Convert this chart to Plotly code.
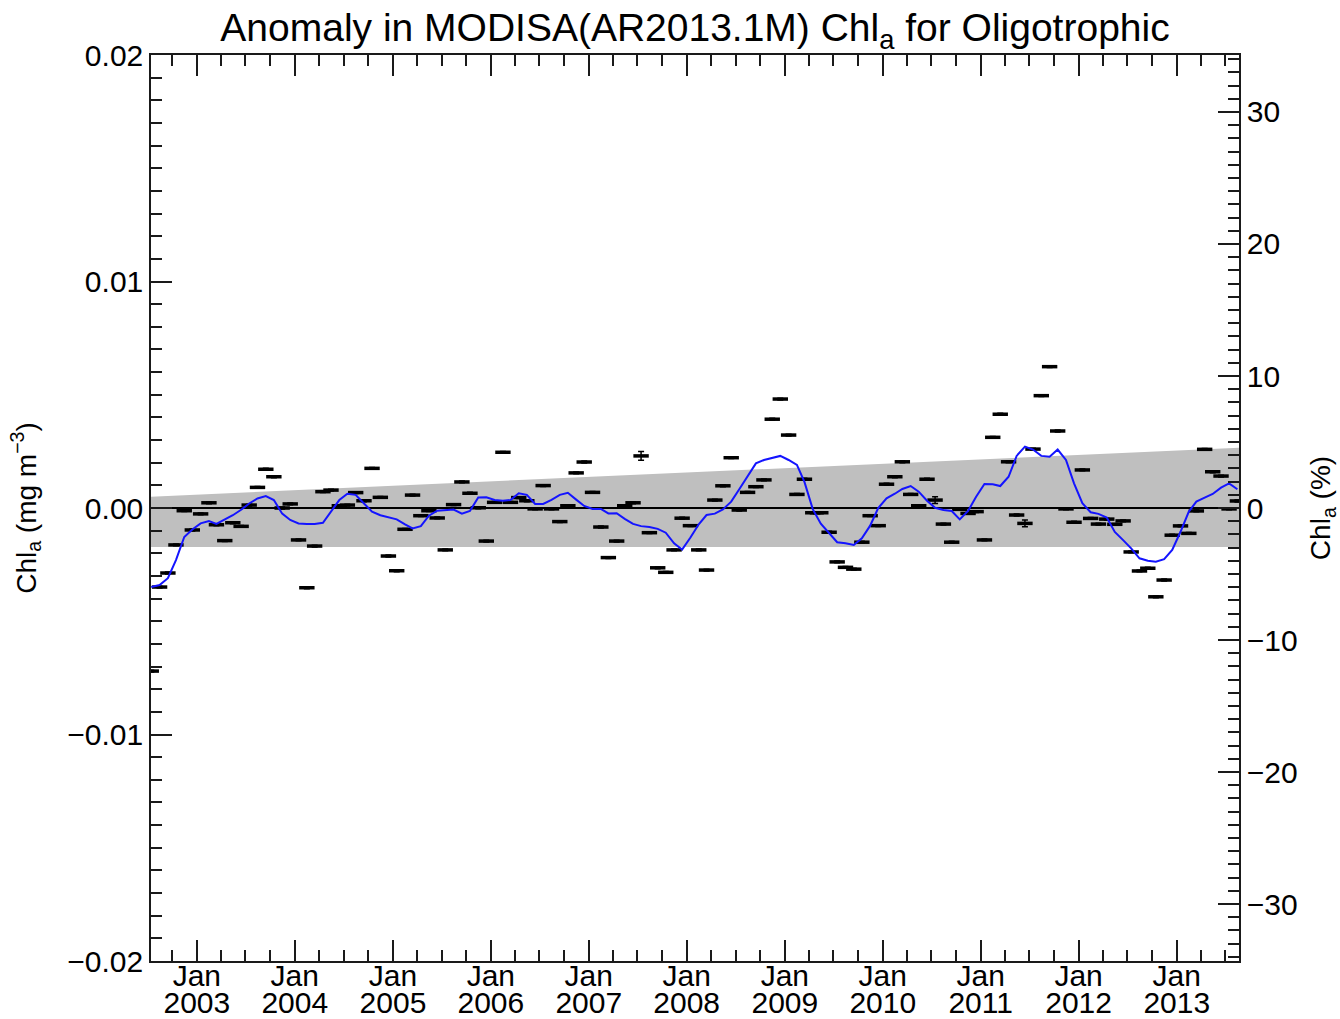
import numpy as np
import pandas as pd
import plotly.graph_objects as go

# ---------------- data ----------------
# monthly anomaly (mg m^-3), Jul 2002 .. Aug 2013 (mid-month)
start_month = "2002-07-01"
anomaly = [
    -0.0072, -0.00349, -0.00287, -0.00163, -0.00012, -0.00097,            # 2002 Jul-Dec
    -0.00026, 0.00023, -0.00074, -0.00144, -0.00065, -0.00081,            # 2003 Jan-Jun
    0.00013, 0.00091, 0.00171, 0.00138, 0.00000, 0.00018,                 # 2003 Jul-Dec
    -0.00141, -0.00352, -0.00168, 0.00072, 0.00079, 0.00010,              # 2004 Jan-Jun
    0.00013, 0.00068, 0.00032, 0.00175, 0.00047, -0.00212,                # 2004 Jul-Dec
    -0.00277, -0.00094, 0.00057, -0.00034, -0.00012, -0.00044,            # 2005 Jan-Jun
    -0.00185, 0.00015, 0.00115, 0.00065, 0.00001, -0.00146,               # 2005 Jul-Dec
    0.00025, 0.00246, 0.00025, 0.00046, 0.00032, -0.00004,                # 2006 Jan-Jun
    0.00099, -0.00004, -0.00060, 0.00010, 0.00155, 0.00203,               # 2006 Jul-Dec
    0.00069, -0.00084, -0.00219, -0.00146, 0.00010, 0.00023,              # 2007 Jan-Jun
    0.00230, -0.00109, -0.00264, -0.00284, -0.00185, -0.00045,            # 2007 Jul-Dec
    -0.00078, -0.00185, -0.00274, 0.00035, 0.00098, 0.00222,              # 2008 Jan-Jun
    -0.00009, 0.00069, 0.00094, 0.00124, 0.00392, 0.00481,                # 2008 Jul-Dec
    0.00322, 0.00060, 0.00127, -0.00021, -0.00021, -0.00107,              # 2009 Jan-Jun
    -0.00238, -0.00262, -0.00270, -0.00151, -0.00034, -0.00078,           # 2009 Jul-Dec
    0.00105, 0.00138, 0.00204, 0.00060, 0.00010, 0.00127,                 # 2010 Jan-Jun
    0.00035, -0.00071, -0.00151, -0.00006, -0.00024, -0.00016,            # 2010 Jul-Dec
    -0.00141, 0.00312, 0.00414, 0.00204, -0.00031, -0.00068,              # 2011 Jan-Jun
    0.00260, 0.00496, 0.00624, 0.00340, -0.00004, -0.00063,               # 2011 Jul-Dec
    0.00168, -0.00046, -0.00071, -0.00049, -0.00072, -0.00057,            # 2012 Jan-Jun
    -0.00194, -0.00278, -0.00266, -0.00392, -0.00318, -0.00120,           # 2012 Jul-Dec
    -0.00079, -0.00112, -0.00013, 0.00259, 0.00160, 0.00141,              # 2013 Jan-Jun
    -0.00004, 0.00031,                                                    # 2013 Jul-Aug
]
# uncertainty of each monthly value (mg m^-3)
anomaly_err = [0.00004] * len(anomaly)
anomaly_err[60] = 0.00019
anomaly_err[96] = 0.00015
anomaly_err[107] = 0.00015

# running mean (mg m^-3), same months
running_mean = [
    -0.00349, -0.00340, -0.00310, -0.00230, -0.00128, -0.00095,
    -0.00068, -0.00058, -0.00070, -0.00052, -0.00032, -0.00008,
    0.00020, 0.00042, 0.00053, 0.00035, -0.00025, -0.00053,
    -0.00068, -0.00071, -0.00071, -0.00065, -0.00015, 0.00035,
    0.00063, 0.00058, 0.00020, -0.00016, -0.00032, -0.00040,
    -0.00050, -0.00072, -0.00090, -0.00080, -0.00034, -0.00012,
    -0.00008, -0.00007, -0.00025, -0.00013, 0.00046, 0.00047,
    0.00035, 0.00032, 0.00035, 0.00065, 0.00058, 0.00018,
    0.00018, 0.00036, 0.00058, 0.00067, 0.00037, 0.00009,
    -0.00004, -0.00004, -0.00024, -0.00023, -0.00048, -0.00070,
    -0.00080, -0.00084, -0.00092, -0.00109, -0.00156, -0.00183,
    -0.00130, -0.00072, -0.00031, -0.00025, -0.00006, 0.00028,
    0.00083, 0.00140, 0.00197, 0.00212, 0.00222, 0.00230,
    0.00212, 0.00190, 0.00115, -0.00005, -0.00069, -0.00112,
    -0.00151, -0.00156, -0.00163, -0.00134, -0.00078, 0.00000,
    0.00043, 0.00063, 0.00084, 0.00097, 0.00072, 0.00032,
    0.00001, -0.00009, -0.00013, -0.00050, -0.00013, 0.00050,
    0.00106, 0.00105, 0.00097, 0.00138, 0.00230, 0.00271,
    0.00258, 0.00230, 0.00226, 0.00258, 0.00212, 0.00109,
    0.00021, -0.00019, -0.00026, -0.00042, -0.00106, -0.00142,
    -0.00178, -0.00222, -0.00233, -0.00237, -0.00226, -0.00185,
    -0.00105, -0.00016, 0.00028, 0.00046, 0.00062, 0.00090,
    0.00109, 0.00083,
]

# shaded band (mg m^-3) at the start and end of the record
band_dates = ["2002-07-14", "2013-08-21"]
band_upper = [0.00050, 0.00266]
band_lower = [-0.00172, -0.00172]

mean_chl = 0.05828          # mg m^-3, converts anomaly to percent
x_range = ["2002-07-14", "2013-08-21"]
y_range = [-0.02, 0.02]
year_ticks = [str(y) for y in range(2003, 2014)]
y_tickvals = [-0.02, -0.01, 0.0, 0.01, 0.02]
y2_tickvals = [-30, -20, -10, 0, 10, 20, 30]

dates = pd.date_range(start_month, periods=len(anomaly), freq="MS") + pd.Timedelta(days=14)
jan_dates = [f"{y}-01-01" for y in year_ticks]

FONT = "Liberation Sans, Arial, Helvetica, sans-serif"
AX = "#1a1a1a"

fig = go.Figure()

# band
fig.add_trace(go.Scatter(x=band_dates, y=band_lower, mode="lines",
                         line=dict(width=0, color="#bfbfbf"), showlegend=False, hoverinfo="skip"))
fig.add_trace(go.Scatter(x=band_dates, y=band_upper, mode="lines", fill="tonexty",
                         fillcolor="#bfbfbf", line=dict(width=0, color="#bfbfbf"),
                         showlegend=False, hoverinfo="skip"))
# zero line
fig.add_trace(go.Scatter(x=x_range, y=[0, 0], mode="lines",
                         line=dict(color="black", width=2), showlegend=False, hoverinfo="skip"))
# monthly values
fig.add_trace(go.Scatter(x=dates, y=anomaly, mode="markers",
                         marker=dict(symbol="line-ew", size=11, line=dict(width=3.5, color="black")),
                         error_y=dict(type="data", array=anomaly_err, visible=True,
                                      color="black", thickness=1.5, width=3),
                         showlegend=False))
# running mean
fig.add_trace(go.Scatter(x=dates, y=running_mean, mode="lines",
                         line=dict(color="#1414ff", width=2), showlegend=False))
# helper trace for overlay axes (empty)
fig.add_trace(go.Scatter(x=[], y=[], xaxis="x2", yaxis="y2", showlegend=False))

pct_half = y_range[1] / mean_chl * 100.0

fig.update_layout(
    width=1340, height=1019,
    margin=dict(l=151, r=101, t=55, b=58, autoexpand=False),
    paper_bgcolor="white", plot_bgcolor="white",
    font=dict(family=FONT, size=30, color="black"),
    title=dict(text="Anomaly in MODISA(AR2013.1M) Chl<sub>a</sub> for Oligotrophic",
               x=0.5, xref="paper", xanchor="center",
               y=1 - 27 / 1019, yref="container", yanchor="middle",
               font=dict(family=FONT, size=39, color="black")),
    xaxis=dict(type="date", range=x_range, tickmode="array", tickvals=jan_dates,
               ticktext=["Jan"] * len(jan_dates), automargin=False,
               ticks="inside", ticklen=21, tickwidth=1.5, tickcolor=AX,
               showline=True, linecolor=AX, linewidth=1.5, mirror="allticks",
               showgrid=False, zeroline=False,
               tickfont=dict(size=30), ticklabelstandoff=-13,
               minor=dict(tickmode="linear", tick0="2003-01-01", dtick="M3",
                          ticks="inside", ticklen=11, tickwidth=1.5, tickcolor=AX, showgrid=False)),
    xaxis2=dict(type="date", range=x_range, overlaying="x", side="bottom", anchor="y",
                tickmode="array", tickvals=jan_dates, ticktext=year_ticks, automargin=False,
                ticks="", showline=False, showgrid=False, zeroline=False,
                tickfont=dict(size=30), ticklabelstandoff=21),
    yaxis=dict(range=y_range, tickmode="array", tickvals=y_tickvals, tickformat=".2f",
               automargin=False,
               ticks="inside", ticklen=21, tickwidth=1.5, tickcolor=AX,
               showline=True, linecolor=AX, linewidth=1.5, mirror=False,
               showgrid=False, zeroline=False, tickfont=dict(size=30),
               minor=dict(tickmode="linear", tick0=0, dtick=0.001,
                          ticks="inside", ticklen=11, tickwidth=1.5, tickcolor=AX, showgrid=False),
               title=dict(text="Chl<sub>a</sub> (mg m<sup>−3</sup>)", font=dict(size=28), standoff=23)),
    yaxis2=dict(range=[-pct_half, pct_half], overlaying="y", side="right", anchor="x",
                tickmode="array", tickvals=y2_tickvals, automargin=False,
                ticks="inside", ticklen=21, tickwidth=1.5, tickcolor=AX,
                showline=True, linecolor=AX, linewidth=1.5,
                showgrid=False, zeroline=False, tickfont=dict(size=30),
                minor=dict(tickmode="linear", tick0=0, dtick=1,
                           ticks="inside", ticklen=11, tickwidth=1.5, tickcolor=AX, showgrid=False),
                title=dict(text="Chl<sub>a</sub> (%)", font=dict(size=28), standoff=14)),
)

fig.write_html("out.html")
